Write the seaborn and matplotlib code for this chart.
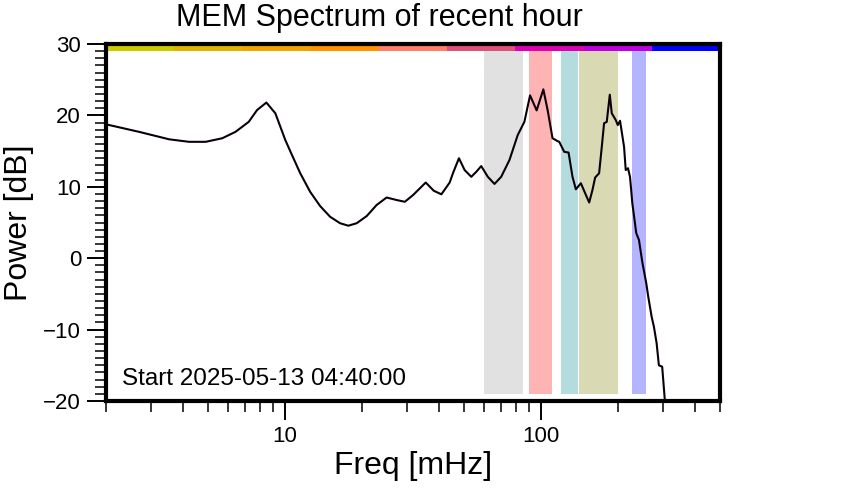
import numpy as np
import pandas as pd
import matplotlib
matplotlib.use("Agg")
import matplotlib.pyplot as plt
import matplotlib.ticker as mticker
import matplotlib.transforms as mtransforms
from matplotlib.patches import Rectangle
import seaborn as sns

# ---- data ----
freq_mhz = [2.0, 2.69, 3.53, 4.22, 4.90, 5.69, 6.41, 7.22, 7.78, 8.46, 9.17, 10.03,
            10.65, 11.47, 12.54, 13.72, 15.01, 16.41, 17.68, 19.06, 20.85, 22.80,
            24.94, 27.28, 29.39, 31.65, 35.46, 38.10, 40.82, 43.98, 45.29, 47.80,
            50.30, 53.41, 55.86, 58.41, 61.97, 65.80, 69.90, 75.28, 81.10, 86.10,
            90.61, 96.14, 102.1, 106.1, 110.9, 116.0, 117.8, 123.2, 128.1, 132.7,
            136.8, 143.1, 148.7, 154.2, 158.8, 162.7, 168.6, 172.7, 176.3, 180.6,
            185.6, 188.9, 195.8, 199.4, 203.5, 211.0, 214.2, 218.6, 222.6, 227.3,
            235.5, 241.3, 248.5, 257.6, 262.3, 270.4, 276.0, 282.8, 288.6, 297.3,
            304.5]
power_db = [18.75, 17.7, 16.65, 16.3, 16.3, 16.8, 17.7, 19.1, 20.75, 21.8, 20.3, 16.55,
            14.45, 11.9, 9.3, 7.3, 5.8, 4.9, 4.55, 4.9, 5.9, 7.45,
            8.5, 8.15, 7.9, 8.85, 10.6, 9.45, 8.95, 10.6, 11.9, 14.0,
            12.35, 11.4, 12.1, 12.9, 11.4, 10.4, 11.4, 13.75, 17.25, 19.1,
            22.8, 20.7, 23.65, 20.75, 16.8, 16.4, 16.3, 14.9, 14.8, 11.4,
            9.65, 10.5, 9.1, 7.8, 9.55, 11.3, 11.9, 15.6, 18.9, 19.1,
            22.9, 20.3, 19.35, 18.65, 19.25, 15.6, 12.35, 12.6, 11.4, 7.7,
            3.5, 2.55, -0.5, -3.5, -5.4, -8.2, -9.6, -11.9, -15.0, -15.2,
            -19.9]

band_lo = [60, 90, 120, 141, 227]
band_hi = [85, 110, 140, 200, 258]
band_colors = ["#e1e1e1", "#ffb4b4", "#b4dcdf", "#d9d9b4", "#b4b4ff"]

bar_colors = ["#cccc00", "#e0b400", "#f0a400", "#ff9200", "#ff7f6a",
              "#e0507a", "#e000b4", "#c000e0", "#0000ff"]

title = "MEM Spectrum of recent hour"
xlabel = "Freq [mHz]"
ylabel = "Power [dB]"
start_text = "Start 2025-05-13 04:40:00"
xtick_vals = [10, 100]
xtick_labels = ["10", "100"]

# ---- plotting ----
sns.set_theme(style="white")
plt.rcParams["font.family"] = ["Liberation Sans", "DejaVu Sans"]

fig = plt.figure(figsize=(8.42, 5.0), dpi=100)
ax = fig.add_axes([0.1259, 0.198, 0.7292, 0.714])

ax.set_xscale("log")
ax.set_xlim(2, 500)
ax.set_ylim(-20, 30)

# shaded bands
for lo, hi, c in zip(band_lo, band_hi, band_colors):
    ax.fill_between([lo, hi], -19, 29, color=c, linewidth=0, zorder=1)

# colour bar along the top
blend = mtransforms.blended_transform_factory(ax.transAxes, ax.transData)
n = len(bar_colors)
for i, c in enumerate(bar_colors):
    ax.add_patch(Rectangle((i / n, 29.0), 1 / n, 0.7, color=c, linewidth=0,
                           transform=blend, zorder=2, clip_on=False))

df = pd.DataFrame({"freq": freq_mhz, "power": power_db})
sns.lineplot(data=df, x="freq", y="power", sort=False, estimator=None,
             color="#0a000a", linewidth=1.5, ax=ax, zorder=3)

ax.text(0.026, 0.062, start_text, transform=ax.transAxes, fontsize=17.5,
        ha="left", va="center", color="black")

# ticks
ax.xaxis.set_major_locator(mticker.FixedLocator(xtick_vals))
ax.xaxis.set_major_formatter(mticker.FixedFormatter(xtick_labels))
ax.xaxis.set_minor_locator(mticker.LogLocator(base=10, subs=np.arange(2, 10)))
ax.xaxis.set_minor_formatter(mticker.NullFormatter())
ax.yaxis.set_major_locator(mticker.MultipleLocator(10))
ax.yaxis.set_minor_locator(mticker.MultipleLocator(1))

ax.tick_params(axis="both", which="major", direction="out", length=14, width=1.4,
               labelsize=16, pad=4, color="black", labelcolor="black",
               bottom=True, left=True, top=False, right=False)
ax.tick_params(axis="both", which="minor", direction="out", length=8, width=1.1,
               color="black", bottom=True, left=True, top=False, right=False)

for s in ax.spines.values():
    s.set_visible(True)
    s.set_linewidth(3)
    s.set_color("black")

ax.set_title(title, fontsize=22, pad=13, color="black", x=0.4446)
ax.set_xlabel(xlabel, fontsize=23, color="black", va="top")
ax.set_ylabel(ylabel, fontsize=23, color="black")
ax.xaxis.set_label_coords(0.5, -0.140)
ax.yaxis.set_label_coords(-0.117, 0.5)
ax.grid(False)
if ax.get_legend():
    ax.get_legend().remove()

fig.savefig("out.png", dpi=100, facecolor="white")
